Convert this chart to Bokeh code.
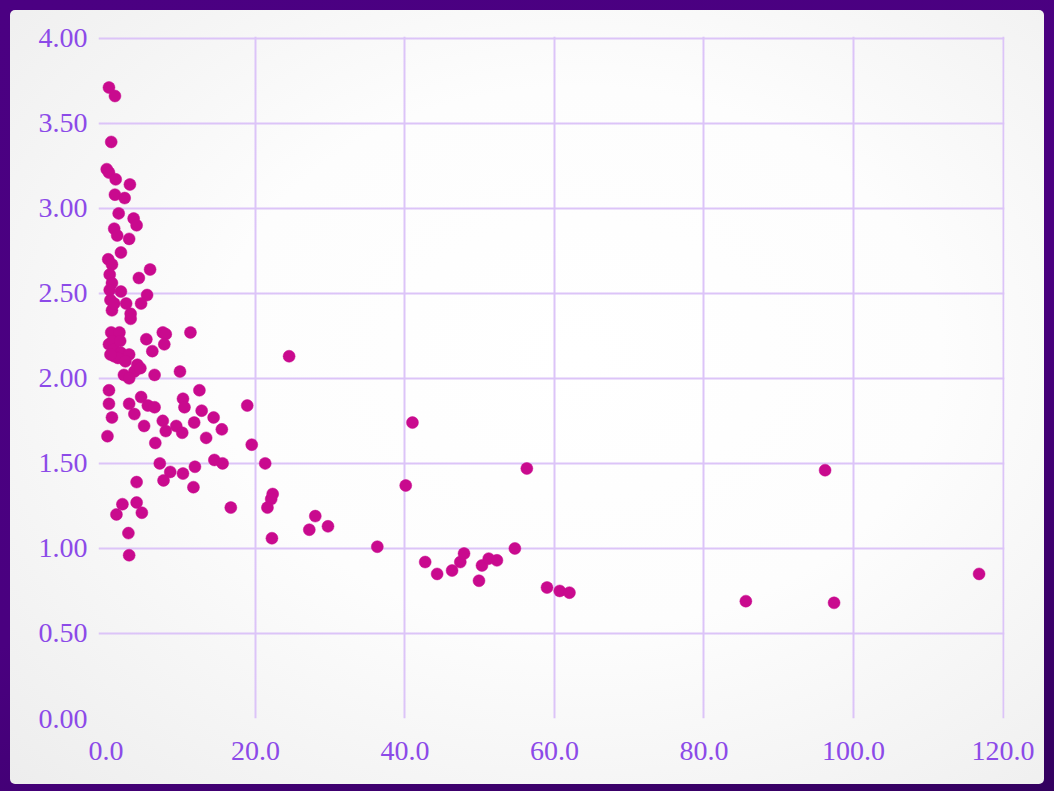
from bokeh.plotting import figure
from bokeh.models import Range1d, FixedTicker, NumeralTickFormatter
from bokeh.embed import file_html
from bokeh.resources import INLINE

# ---- data ----
x_vals = [
    0.4, 1.2, 0.7, 0.1, 0.4, 1.3, 3.2, 1.2, 2.5, 1.7, 3.7, 4.1, 1.1, 1.5, 3.1, 2.0, 0.3, 0.8, 5.9,
    4.4, 0.5, 0.8, 2.0, 0.6, 5.5, 2.7, 4.7, 0.8, 3.3, 3.3,
    0.7, 1.8, 11.3, 5.4, 7.6, 8.0, 7.8, 0.4, 0.9, 1.1, 2.0, 6.2, 3.1, 1.1, 24.5,
    4.2, 3.8, 2.4, 3.1, 6.5, 9.9,
    1.6, 2.6, 4.6, 1.9, 0.6, 1.1, 0.5,
    0.4, 0.4, 0.8, 0.2, 3.1, 3.8, 4.7, 5.6, 6.5, 5.1, 7.6, 8.0, 9.4, 10.3, 10.5, 10.2, 11.8,
    12.5, 12.8, 6.6, 13.4, 18.9, 14.4, 15.5, 19.5,
    7.2, 8.6, 7.7, 10.3, 11.9, 14.5, 15.6, 21.3, 11.7, 4.1, 2.2, 4.1, 1.4, 4.8, 16.7, 22.3,
    22.1, 21.6, 3.0, 3.1, 22.2, 27.2, 28.0, 29.7,
    41.0, 56.3, 40.1, 36.3, 42.7, 44.3, 46.3, 47.4, 47.9, 49.9, 50.3, 51.2, 52.3, 54.7,
    59.0, 60.7, 62.0, 85.6, 96.2, 97.4, 116.8,
]
y_vals = [
    3.71, 3.66, 3.39, 3.23, 3.21, 3.17, 3.14, 3.08, 3.06, 2.97, 2.94, 2.90, 2.88, 2.84, 2.82, 2.74, 2.70, 2.67, 2.64,
    2.59, 2.61, 2.56, 2.51, 2.46, 2.49, 2.44, 2.44, 2.40, 2.38, 2.35,
    2.27, 2.27, 2.27, 2.23, 2.27, 2.26, 2.20, 2.20, 2.22, 2.17, 2.15, 2.16, 2.14, 2.13, 2.13,
    2.08, 2.04, 2.02, 2.00, 2.02, 2.04,
    2.12, 2.10, 2.06, 2.22, 2.14, 2.44, 2.52,
    1.93, 1.85, 1.77, 1.66, 1.85, 1.79, 1.89, 1.84, 1.83, 1.72, 1.75, 1.69, 1.72, 1.88, 1.83, 1.68, 1.74,
    1.93, 1.81, 1.62, 1.65, 1.84, 1.77, 1.70, 1.61,
    1.50, 1.45, 1.40, 1.44, 1.48, 1.52, 1.50, 1.50, 1.36, 1.39, 1.26, 1.27, 1.20, 1.21, 1.24, 1.32,
    1.29, 1.24, 1.09, 0.96, 1.06, 1.11, 1.19, 1.13,
    1.74, 1.47, 1.37, 1.01, 0.92, 0.85, 0.87, 0.92, 0.97, 0.81, 0.90, 0.94, 0.93, 1.00,
    0.77, 0.75, 0.74, 0.69, 1.46, 0.68, 0.85,
]
x_ticks = [0, 20, 40, 60, 80, 100, 120]
y_ticks = [0.0, 0.5, 1.0, 1.5, 2.0, 2.5, 3.0, 3.5, 4.0]
x_grid_ticks = [20, 40, 60, 80, 100, 120]
y_grid_ticks = [0.5, 1.0, 1.5, 2.0, 2.5, 3.0, 3.5, 4.0]

LABEL = "#8c4ae8"
GRID = "#dcc4f8"
DOT = "#c90a8e"

p = figure(
    width=1034, height=774,
    x_range=Range1d(-1.0, 120.2), y_range=Range1d(0.0, 4.01),
    output_backend="svg", toolbar_location=None,
    min_border_left=88, min_border_right=40, min_border_top=26, min_border_bottom=66,
)
p.border_fill_color = None
p.background_fill_color = None
p.outline_line_color = None
p.styles = {
    "background": "radial-gradient(ellipse at 55% 45%, #ffffff 0%, #fdfdfd 45%, #ededed 100%)",
    "border-radius": "5px",
}

p.scatter(x_vals, y_vals, size=12, fill_color=DOT, line_color=DOT, line_width=0.5)

for ax in (p.xaxis[0], p.yaxis[0]):
    ax.axis_line_color = None
    ax.major_tick_line_color = None
    ax.minor_tick_line_color = None
    ax.major_label_text_font = "Liberation Serif"
    ax.major_label_text_font_size = "28px"
    ax.major_label_text_color = LABEL

p.xaxis.ticker = FixedTicker(ticks=x_ticks)
p.yaxis.ticker = FixedTicker(ticks=y_ticks)
p.xaxis.formatter = NumeralTickFormatter(format="0.0")
p.yaxis.formatter = NumeralTickFormatter(format="0.00")
p.xaxis.major_label_standoff = 17
p.yaxis.major_label_standoff = 5

p.xgrid.ticker = FixedTicker(ticks=x_grid_ticks)
p.ygrid.ticker = FixedTicker(ticks=y_grid_ticks)
for g in (p.xgrid[0], p.ygrid[0]):
    g.grid_line_color = GRID
    g.grid_line_width = 2

template = """{% block postamble %}
<style>
html, body { margin: 0 !important; overflow: hidden; }
body { padding: 10px !important; box-sizing: border-box;
       background: linear-gradient(160deg, #4b0082 0%, #4a0080 55%, #33005f 100%); }
</style>
{% endblock %}"""

open("out.html", "w").write(file_html(p, INLINE, title="chart", template=template))
